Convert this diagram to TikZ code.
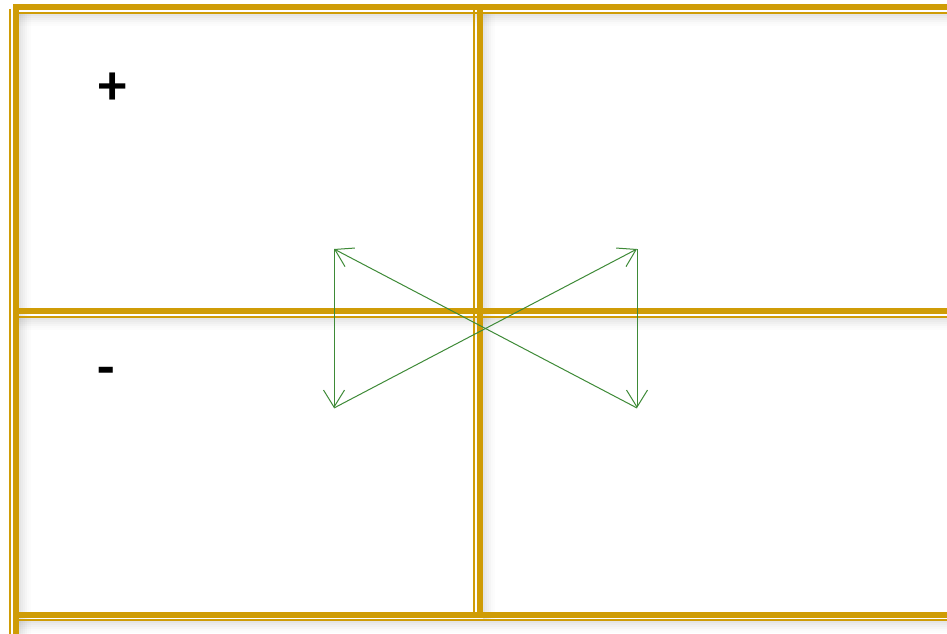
\documentclass[tikz,border=0pt]{standalone}
\usepackage{fontspec}
\setmainfont{Carlito}
\usetikzlibrary{arrows.meta}
\definecolor{lnGold}{HTML}{CF9C06}
\definecolor{arGreen}{HTML}{3E8A37}

\begin{document}
\begin{tikzpicture}[x=1pt,y=-1pt,
  goldThick/.style={draw=lnGold,line width=6pt},
  goldThin/.style={draw=lnGold,line width=2pt},
  lnShadow/.style={draw=black,line width=2pt},
  arrowLine/.style={draw=arGreen,line width=1pt,-{Straight Barb[length=17pt,width=21pt]}},
  signText/.style={font=\fontsize{57}{57}\selectfont\bfseries,inner sep=0pt}]
  \useasboundingbox[fill=white] (0,0) rectangle (947,634);
  % soft shadows under and beside the frame lines
  \foreach \d/\o in {1/0.10,3/0.08,5/0.06,7/0.04,9/0.02,11/0.01} {
    \draw[lnShadow,opacity=\o] (19,14+\d) -- (947,14+\d);
    \draw[lnShadow,opacity=\o] (19,318+\d) -- (947,318+\d);
    \draw[lnShadow,opacity=\o] (19,621+\d) -- (947,621+\d);
    \draw[lnShadow,opacity=\o] (19+\d,14) -- (19+\d,634);
    \draw[lnShadow,opacity=\o] (483+\d,14) -- (483+\d,621);
  }
  \draw[goldThin] (13,13) -- (947,13);
  \draw[goldThin] (13,317) -- (947,317);
  \draw[goldThin] (13,620) -- (947,620);
  \draw[goldThin] (10.2,9) -- (10.2,634);
  \draw[goldThick] (16.2,10) -- (16.2,634);
  \draw[goldThin] (474.2,10) -- (474.2,617);
  \draw[goldThick] (480,10) -- (480,617);
  \draw[goldThick] (13,7) -- (947,7);
  \draw[goldThick] (13,311) -- (947,311);
  \draw[goldThick] (13,614.7) -- (947,614.7);
  % signs
  \node[signText] (plus) at (113,89) {+};
  \node[signText] (minus) at (106,377) {-};
  % arrows
  \coordinate (ul) at (334,249);
  \coordinate (ll) at (334,408);
  \coordinate (ur) at (637,249);
  \coordinate (lr) at (637,408);
  \draw[arrowLine] (lr) -- (ul);
  \draw[arrowLine] (ul) -- (ll);
  \draw[arrowLine] (ll) -- (ur);
  \draw[arrowLine] (ur) -- (lr);
\end{tikzpicture}
\end{document}
